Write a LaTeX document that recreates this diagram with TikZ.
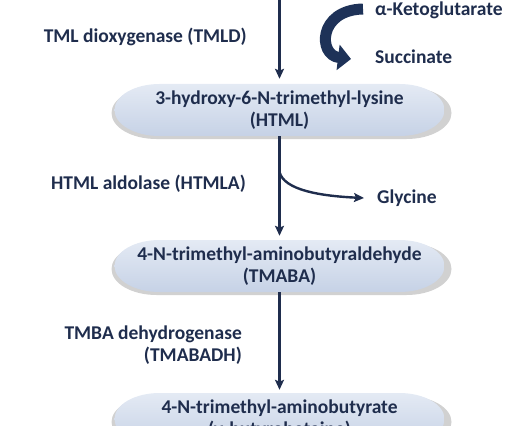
\documentclass[tikz,border=0pt]{standalone}
\usepackage{fontspec}
\setmainfont{Carlito}
\usetikzlibrary{arrows.meta,calc}
\definecolor{navy}{RGB}{31,45,77}
\definecolor{bandc}{RGB}{30,50,88}
\definecolor{boxtop}{RGB}{228,234,244}
\definecolor{boxbot}{RGB}{198,210,230}
\newcommand\capsulebg[2]{%
  \fill[black!40,opacity=0.45] (#1-123,#2-23) -- (#1+127,#2-23)
    arc[start angle=-90,end angle=90,x radius=45,y radius=26]
    -- (#1-123,#2+29) arc[start angle=90,end angle=270,x radius=45,y radius=26] -- cycle;
  \shade[top color=boxtop,bottom color=boxbot] (#1-120,#2-26) -- (#1+120,#2-26)
    arc[start angle=-90,end angle=90,x radius=45,y radius=26]
    -- (#1-120,#2+26) arc[start angle=90,end angle=270,x radius=45,y radius=26] -- cycle;
}
\tikzset{
  stage/.style={minimum width=329pt, minimum height=52pt, draw=none, align=center,
    text=navy, font=\bfseries\fontsize{19.5}{22}\selectfont, inner sep=0pt},
  enzyme/.style={text=navy, font=\bfseries\fontsize{19.5}{22}\selectfont, inner sep=0pt},
  flow/.style={draw=navy, line width=2.4pt, -{Stealth[length=10pt,width=9pt,inset=2pt]}},
}
\begin{document}
\begin{tikzpicture}[x=1pt,y=-1pt]
\useasboundingbox (0,0) rectangle (510,425);
\clip (0,0) rectangle (510,425);
\capsulebg{279.5}{110}
\capsulebg{279.5}{266}
\capsulebg{279.5}{419}
\coordinate (top) at (279.5,-2);
\node[stage] (html) at (279.5,110) {3-hydroxy-6-N-trimethyl-lysine\\(HTML)};
\node[stage] (tmaba) at (279.5,266) {4-N-trimethyl-aminobutyraldehyde\\(TMABA)};
\node[stage] (gbb) at (279.5,419) {4-N-trimethyl-aminobutyrate\\(γ-butyrobetaine)};
\draw[flow, shorten >=5pt] (top) -- (html.north);
\draw[flow, shorten >=4pt] (html.south) -- (tmaba.north);
\draw[flow, shorten >=3pt] (tmaba.south) -- (gbb.north);
\node[enzyme, anchor=east] (tmld) at (247,37) {TML dioxygenase (TMLD)};
\node[enzyme, anchor=east] (htmla) at (246,184) {HTML aldolase (HTMLA)};
\node[enzyme, anchor=east, align=right] (tmabadh) at (242,345) {TMBA dehydrogenase\\(TMABADH)};
\node[enzyme, anchor=west] (akg) at (375,10) {α-Ketoglutarate};
\node[enzyme, anchor=west] (succ) at (375,57) {Succinate};
\node[enzyme, anchor=west] (gly) at (377,198) {Glycine};
\coordinate (akgend) at (363,9);
\coordinate (succend) at (351,59);
\draw[bandc, line width=11pt, -{Triangle[length=13pt,width=25pt]}]
  (akgend) .. controls (318,10) and (318,55) .. (succend);
\coordinate (branch) at (279.5,172);
\coordinate (glyend) at (364,198);
\draw[flow] (branch) .. controls (284,190) and (320,196) .. (glyend);
\end{tikzpicture}
\end{document}
